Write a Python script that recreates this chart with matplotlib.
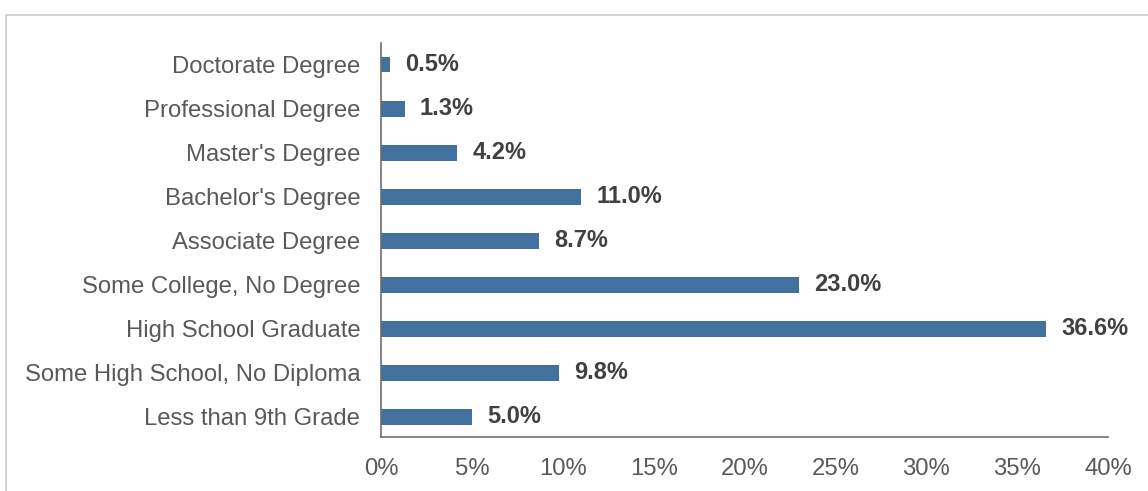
import matplotlib.pyplot as plt
from matplotlib.patches import Rectangle
from matplotlib.ticker import FuncFormatter

levels = ["Less than 9th Grade", "Some High School, No Diploma", "High School Graduate",
          "Some College, No Degree", "Associate Degree", "Bachelor's Degree",
          "Master's Degree", "Professional Degree", "Doctorate Degree"]
shares = [5.0, 9.8, 36.6, 23.0, 8.7, 11.0, 4.2, 1.3, 0.5]
xticks = [0, 5, 10, 15, 20, 25, 30, 35, 40]

plt.rcParams["font.family"] = ["Liberation Sans", "DejaVu Sans"]

fig = plt.figure(figsize=(11.48, 4.91), dpi=100, facecolor="white")
# light frame around the chart area
fig.patches.append(Rectangle((6 / 1148, -0.1), 1.2, 1 - 15 / 491 + 0.1, transform=fig.transFigure,
                             fill=False, edgecolor="#C9C9C9", linewidth=1.2))

ax = fig.add_axes([381 / 1148, 54 / 491, 727 / 1148, 394 / 491])
ax.barh(range(len(levels)), shares, height=0.36, color="#41719C")
for i, v in enumerate(shares):
    ax.annotate(f"{v:.1f}%", (v, i), xytext=(11, 0), textcoords="offset points",
                va="center", ha="left", fontsize=17, fontweight="bold", color="#404040")

ax.set_xlim(0, 40)
ax.set_ylim(-0.46, len(levels) - 0.51)
ax.set_xticks(xticks)
ax.xaxis.set_major_formatter(FuncFormatter(lambda x, p: f"{x:.0f}%"))
ax.set_yticks(range(len(levels)))
ax.set_yticklabels(levels)
ax.tick_params(axis="both", length=0, labelsize=17.2, colors="#595959")
ax.tick_params(axis="y", pad=15)
ax.tick_params(axis="x", pad=15)
for s in ["top", "right"]:
    ax.spines[s].set_visible(False)
for s in ["left", "bottom"]:
    ax.spines[s].set_color("#6E6E6E")
    ax.spines[s].set_linewidth(1.2)

fig.savefig("out.png", dpi=100)
